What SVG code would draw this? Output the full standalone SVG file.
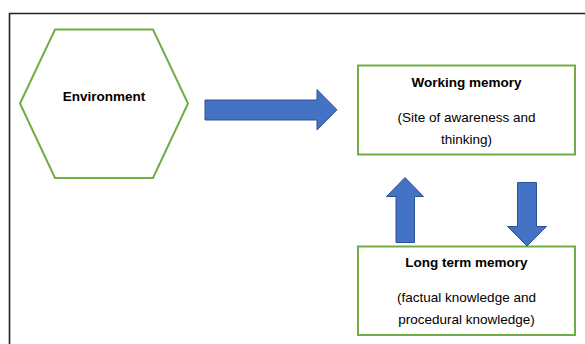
<svg xmlns="http://www.w3.org/2000/svg" width="585" height="344" viewBox="0 0 585 344">
<style>
.node{fill:#fff;stroke:#70AD47;stroke-width:2}
.arrow{fill:#4472C4;stroke:#2F528F;stroke-width:1}
.t{font-family:"Liberation Sans",Arial,sans-serif;font-size:13.5px;fill:#000;text-anchor:middle}
.b{font-weight:bold;font-size:13.5px}
</style>
<rect width="585" height="344" fill="#fff"/>
<path d="M9.5,344 V13.5 H585" fill="none" stroke="#222" stroke-width="1.6"/>
<g id="environment">
<polygon class="node" points="20,103.5 55,29.5 153,29.5 188,103.5 153,178 55,178"/>
<text class="t b" x="104" y="101">Environment</text>
</g>
<g id="working-memory">
<rect class="node" x="358" y="65.5" width="217" height="89"/>
<text class="t b" x="466.5" y="87">Working memory</text>
<text class="t" x="466.5" y="122">(Site of awareness and</text>
<text class="t" x="466.5" y="143.5">thinking)</text>
</g>
<g id="long-term-memory">
<rect class="node" x="358" y="246.5" width="217" height="88.5"/>
<text class="t b" x="466.5" y="267">Long term memory</text>
<text class="t" x="466.5" y="302">(factual knowledge and</text>
<text class="t" x="466.5" y="324">procedural knowledge)</text>
</g>
<g id="connectors">
<polygon class="arrow" points="205,100 317,100 317,89.5 337,109.8 317,130 317,120 205,120"/>
<polygon class="arrow" points="396,242.5 396,196.5 386.5,196.5 405,177.5 423.5,196.5 414.5,196.5 414.5,242.5"/>
<polygon class="arrow" points="517.5,182.5 536.5,182.5 536.5,226.5 546.5,226.5 527,246 507.5,226.5 517.5,226.5"/>
</g>
</svg>
